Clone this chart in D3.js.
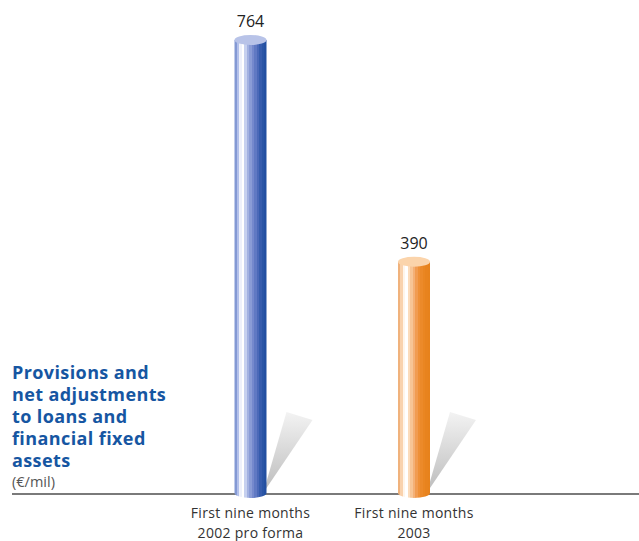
<!DOCTYPE html>
<html>
<head>
<meta charset="utf-8">
<script src="https://cdn.jsdelivr.net/npm/d3@7"></script>
<style>
  body { margin: 0; background: #fff; }
  svg text { font-family: "Open Sans", Lato, sans-serif; }
</style>
</head>
<body>
<div id="chart"></div>
<script>
// chart data
var categories = ["First nine months\n2002 pro forma", "First nine months\n2003"];
var values = [764, 390];
var seriesNames = ["blue", "orange"];
var titleLines = ["Provisions and", "net adjustments", "to loans and", "financial fixed", "assets"];
var unitLabel = "(€/mil)";

var width = 639, height = 541;
var baseY = 493;

var svg = d3.select("#chart")
  .append("svg")
  .attr("width", width)
  .attr("height", height);

var x = d3.scalePoint()
  .domain(categories)
  .range([250.5, 414]);

var y = d3.scaleLinear()
  .domain([0, 764])
  .range([baseY, 40]);

var barW = 32, ry = 5;

// stripe gradients for the cylinders
var palettes = {
  blue: ["#8399d4", "#b3c0ea", "#eef1fb", "#ffffff", "#c6d0ef", "#a2b1e1", "#8a9cd6", "#7589cd", "#6079c3", "#4b69b8", "#365cad", "#2a55a6", "#2350a2"],
  orange: ["#f0b27c", "#f9d2ad", "#fff5ea", "#ffffff", "#fbdcbc", "#f7c596", "#f4b077", "#f19c52", "#ee9038", "#ec8a2a", "#ea8622", "#e8831e", "#e7821c"]
};
var tops = { blue: "#b8c3e8", orange: "#fbd4ab" };

var defs = svg.append("defs");
seriesNames.forEach(function (name) {
  var cols = palettes[name];
  var g = defs.append("linearGradient")
    .attr("id", "grad-" + name)
    .attr("x1", "0%").attr("x2", "100%").attr("y1", "0%").attr("y2", "0%");
  var n = cols.length;
  cols.forEach(function (c, i) {
    g.append("stop").attr("offset", (i / n * 100) + "%").attr("stop-color", c);
    g.append("stop").attr("offset", ((i + 1) / n * 100) + "%").attr("stop-color", c);
  });
});

var sh = defs.append("linearGradient")
  .attr("id", "shadow")
  .attr("x1", "0").attr("x2", "0").attr("y1", "1").attr("y2", "0");
sh.append("stop").attr("offset", "0%").attr("stop-color", "#bcbcbc");
sh.append("stop").attr("offset", "60%").attr("stop-color", "#dddddd");
sh.append("stop").attr("offset", "100%").attr("stop-color", "#f3f3f3");

var data = categories.map(function (c, i) {
  return { cat: c, value: values[i], name: seriesNames[i] };
});

// shadows behind the cylinders
svg.selectAll(".shadow")
  .data(data)
  .enter().append("path")
  .attr("class", "shadow")
  .attr("fill", "url(#shadow)")
  .attr("d", function (d) {
    var r = x(d.cat) + barW / 2;
    return "M" + (r - 3) + "," + (baseY - 1) +
      "L" + (r + 20) + "," + (baseY - 81) +
      "L" + (r + 46) + "," + (baseY - 73) +
      "L" + (r - 2) + "," + (baseY - 2) + "Z";
  });

// baseline
svg.append("line")
  .attr("x1", 12).attr("x2", width)
  .attr("y1", baseY + 1).attr("y2", baseY + 1)
  .attr("stroke", "#7a7a7a")
  .attr("stroke-width", 2);

// cylinder bodies
var bars = svg.selectAll(".bar")
  .data(data)
  .enter().append("g")
  .attr("class", "bar");

bars.append("path")
  .attr("fill", function (d) { return "url(#grad-" + d.name + ")"; })
  .attr("d", function (d) {
    var l = x(d.cat) - barW / 2, r = x(d.cat) + barW / 2, t = y(d.value);
    return "M" + l + "," + t + "L" + l + "," + baseY +
      "A" + (barW / 2) + "," + ry + " 0 0 0 " + r + "," + baseY +
      "L" + r + "," + t + "Z";
  });

bars.append("ellipse")
  .attr("cx", function (d) { return x(d.cat); })
  .attr("cy", function (d) { return y(d.value); })
  .attr("rx", barW / 2)
  .attr("ry", ry)
  .attr("fill", function (d) { return tops[d.name]; });

// value labels
bars.append("text")
  .attr("x", function (d) { return x(d.cat); })
  .attr("y", function (d) { return y(d.value) - 13; })
  .attr("text-anchor", "middle")
  .attr("font-size", 16)
  .attr("fill", "#222")
  .text(function (d) { return d.value; });

// category labels, one text per line
categories.forEach(function (c) {
  c.split("\n").forEach(function (s, i) {
    svg.append("text")
      .attr("class", "cat")
      .attr("x", x(c))
      .attr("y", 518 + i * 19.5)
      .attr("text-anchor", "middle")
      .attr("font-size", 14)
      .attr("letter-spacing", 0.3)
      .attr("fill", "#333")
      .text(s);
  });
});

// title
svg.append("g").selectAll("text")
  .data(titleLines)
  .enter().append("text")
  .attr("x", 12)
  .attr("y", function (d, i) { return 379 + i * 22; })
  .attr("font-family", "'DejaVu Sans', sans-serif")
  .attr("font-size", 18)
  .attr("font-weight", "bold")
  .attr("letter-spacing", 0.4)
  .attr("fill", "#1656a2")
  .text(function (d) { return d; });

svg.append("text")
  .attr("x", 12)
  .attr("y", 487)
  .attr("font-size", 14.5)
  .attr("fill", "#555")
  .text(unitLabel);
</script>
</body>
</html>
